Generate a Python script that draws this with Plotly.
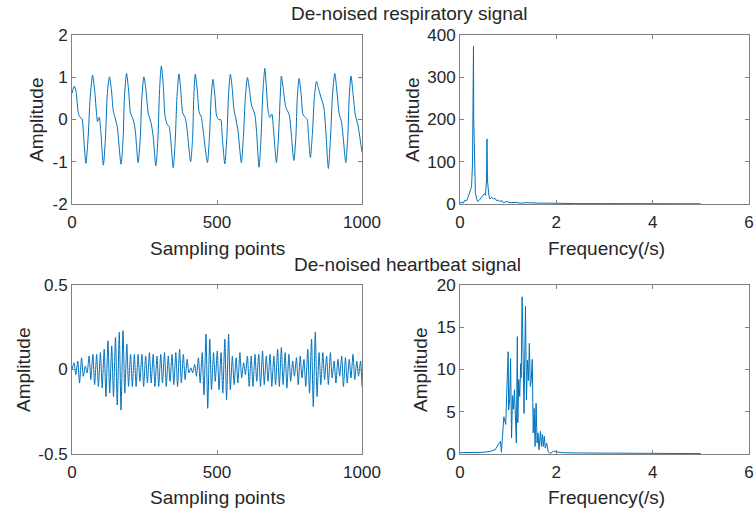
import plotly.graph_objects as go

# ---------------- data ----------------
resp_x = [0, 8, 14, 22, 28, 34, 41, 48, 55, 63, 71, 78, 85, 88, 94, 99, 108, 115, 122, 129,
          136, 142, 149, 156, 169, 176, 181, 188, 195, 202, 211, 218, 228, 235, 241, 248, 255, 263, 273, 280,
          289, 296, 302, 308, 315, 321, 328, 335, 349, 356, 362, 369, 375, 382, 390, 397, 409, 416, 420, 425,
          432, 439, 445, 452, 467, 474, 480, 486, 493, 499, 507, 513, 518, 527, 534, 540, 546, 553, 558, 564,
          572, 584, 591, 598, 605, 612, 619, 630, 636, 645, 652, 658, 665, 670, 676, 682, 689, 695, 705, 712,
          718, 722, 729, 737, 749, 755, 765, 772, 777, 783, 790, 797, 805, 811, 815, 822, 829, 836, 843, 850,
          856, 868, 875, 884, 891, 898, 906, 913, 921, 929, 935, 944, 951, 956, 962, 969, 977, 986, 994, 1000]
resp_y = [0.62, 0.79, 0.66, 0.15, 0.05, 0.02, -0.49, -1.04, -0.49, 0.54, 1.05, 0.70, 0.11, -0.05, 0.05, -0.25, -1.08, -0.49, 0.62, 1.01,
          0.70, 0.22, 0.03, -0.17, -1.06, -0.49, 0.54, 1.09, 0.70, 0.15, 0.00, -0.25, -1.02, -0.49, 0.54, 1.01, 0.70, 0.15, -0.09, -0.41,
          -1.10, -0.49, 0.70, 1.27, 0.78, 0.07, -0.11, -0.17, -1.14, -0.49, 0.54, 1.08, 0.70, 0.15, 0.05, -0.25, -1.00, -0.41, 0.54, 1.07,
          0.70, 0.15, 0.08, -0.25, -1.02, -0.41, 0.54, 0.95, 0.54, 0.08, -0.01, 0.00, -0.41, -1.05, -0.41, 0.62, 1.07, 0.70, 0.26, 0.05,
          -0.25, -1.02, -0.41, 0.54, 0.99, 0.70, 0.34, 0.13, -0.25, -1.13, -0.41, 0.62, 1.21, 0.78, 0.22, 0.05, 0.13, -0.25, -1.02, -0.41,
          0.54, 1.03, 0.70, 0.30, 0.11, -0.25, -0.97, -0.41, 0.54, 0.97, 0.62, 0.11, 0.05, 0.00, -0.33, -0.90, -0.33, 0.54, 0.90, 0.74,
          0.58, 0.30, -0.25, -1.16, -0.49, 0.54, 1.09, 0.70, 0.15, -0.05, -0.41, -1.02, -0.41, 0.54, 1.03, 0.62, 0.11, -0.13, -0.49, -0.78]

resp_f = [0.00, 0.02, 0.04, 0.07, 0.10, 0.14, 0.17, 0.19, 0.21, 0.24, 0.26, 0.27, 0.28, 0.285, 0.30, 0.32, 0.35, 0.37, 0.40, 0.43,
          0.46, 0.50, 0.53, 0.55, 0.56, 0.57, 0.60, 0.62, 0.66, 0.69, 0.73, 0.76, 0.80, 0.83, 0.87, 0.90, 0.97, 1.04, 1.14, 1.25,
          1.38, 1.52, 1.66, 1.87, 2.08, 2.35, 3.04, 3.74, 4.43, 5.00]
resp_amp = [4, 2, 5, 2, 9, 8, 17, 24, 32, 41, 96, 254, 374, 200, 73, 25, 11, 6, 9, 13,
            17, 24, 21, 57, 154, 57, 20, 12, 16, 12, 13, 8, 9, 6, 8, 3, 6, 3, 4, 2,
            3, 2, 2, 2, 1.5, 1, 1, 0.8, 0.5, 0.5]

hb_x = [0, 7, 13, 20, 26, 33, 39, 46, 52, 59, 65, 72, 78, 85, 91, 98, 104, 111, 117, 124,
        130, 137, 143, 150, 156, 163, 169, 176, 182, 189, 195, 202, 208, 215, 221, 228, 234, 241, 247, 254,
        260, 267, 273, 280, 286, 293, 299, 306, 312, 319, 325, 332, 338, 345, 351, 358, 364, 371, 377, 384,
        390, 397, 403, 410, 416, 423, 429, 436, 442, 449, 455, 462, 468, 475, 481, 488, 494, 501, 507, 514,
        520, 527, 533, 540, 546, 553, 559, 566, 572, 579, 585, 592, 598, 605, 611, 618, 624, 631, 637, 644,
        650, 657, 663, 670, 676, 683, 689, 696, 702, 709, 715, 722, 728, 735, 741, 748, 754, 761, 767, 774,
        780, 787, 793, 800, 806, 813, 819, 826, 832, 839, 845, 852, 858, 865, 871, 878, 884, 891, 897, 904,
        910, 917, 923, 930, 936, 943, 949, 956, 962, 969, 975, 982, 988, 995, 1000]
hb_y = [0.0, 0.04, -0.03, 0.05, -0.08, 0.07, -0.04, 0.02, -0.02, 0.08, -0.06, 0.09, -0.09, 0.09, -0.10, 0.10, -0.11, 0.12, -0.16, 0.17,
        -0.14, 0.14, -0.16, 0.19, -0.21, 0.22, -0.24, 0.23, -0.14, 0.15, -0.10, 0.09, -0.10, 0.09, -0.10, 0.09, -0.07, 0.09, -0.10, 0.08,
        -0.08, 0.10, -0.08, 0.09, -0.10, 0.08, -0.10, 0.09, -0.08, 0.10, -0.10, 0.08, -0.07, 0.09, -0.09, 0.10, -0.10, 0.12, -0.08, 0.09,
        -0.06, 0.06, -0.02, 0.01, -0.02, 0.03, -0.04, 0.07, -0.08, 0.10, -0.15, 0.21, -0.23, 0.18, -0.12, 0.10, -0.07, 0.11, -0.12, 0.10,
        -0.14, 0.18, -0.18, 0.21, -0.12, 0.08, -0.09, 0.07, -0.08, 0.10, -0.05, 0.04, -0.03, 0.08, -0.10, 0.08, -0.10, 0.09, -0.07, 0.09,
        -0.10, 0.11, -0.09, 0.08, -0.07, 0.09, -0.10, 0.08, -0.09, 0.12, -0.10, 0.13, -0.09, 0.10, -0.11, 0.09, -0.07, 0.05, -0.04, 0.07,
        -0.09, 0.08, -0.05, 0.06, -0.10, 0.12, -0.14, 0.18, -0.22, 0.22, -0.16, 0.10, -0.09, 0.10, -0.06, 0.08, -0.09, 0.10, -0.05, 0.05,
        -0.08, 0.06, -0.04, 0.08, -0.10, 0.07, -0.08, 0.06, -0.05, 0.09, -0.06, 0.05, -0.04, 0.05, -0.10]

hb_f = [0.00, 0.28, 0.48, 0.62, 0.73, 0.77, 0.82, 0.84, 0.86, 0.88, 0.91, 0.93, 0.95, 0.97, 1.00, 1.01, 1.03, 1.05, 1.07, 1.09,
        1.11, 1.13, 1.15, 1.17, 1.19, 1.20, 1.22, 1.24, 1.26, 1.27, 1.29, 1.31, 1.33, 1.34, 1.36, 1.38, 1.40, 1.42, 1.44, 1.46,
        1.48, 1.50, 1.52, 1.54, 1.56, 1.58, 1.60, 1.62, 1.64, 1.67, 1.69, 1.71, 1.73, 1.75, 1.77, 1.80, 1.83, 1.87, 1.90, 1.94,
        2.00, 2.14, 2.49, 3.18, 3.87, 5.00]
hb_amp = [0.16, 0.16, 0.2, 0.3, 0.5, 0.9, 1.3, 1.5, 0.2, 1.5, 4.4, 3.9, 3.5, 7.2, 12.1, 5.2, 6.4, 11.3, 1.9, 6.9,
          5.3, 7.6, 4.0, 1.3, 13.9, 3.7, 8.8, 6.8, 10.7, 9.0, 18.6, 9.9, 4.8, 9.9, 17.5, 6.4, 11.1, 8.7, 13.1, 8.0,
          8.8, 11.2, 2.5, 5.4, 0.9, 6.0, 1.3, 2.5, 0.5, 2.7, 0.9, 2.3, 0.9, 2.1, 0.7, 1.3, 0.3, 0.05, 0.2, 0.35,
          0.25, 0.15, 0.12, 0.1, 0.08, 0.05]

titles = ["De-noised respiratory signal", "De-noised heartbeat signal"]
xlab_time = "Sampling points"
xlab_freq = "Frequency(/s)"
ylab = "Amplitude"

# ---------------- figure ----------------
W, H = 756, 508
LINE = "#0072BD"
AX = "#808080"
TXT = "#262626"
FONT = "Arial, Liberation Sans, Helvetica, sans-serif"

def px(x):
    return x / W

def py(y):
    return 1 - y / H

fig = go.Figure()
fig.add_trace(go.Scatter(x=resp_x, y=resp_y, mode="lines", line=dict(color=LINE, width=1, shape="spline", smoothing=0.7),
                         xaxis="x", yaxis="y", showlegend=False))
fig.add_trace(go.Scatter(x=resp_f, y=resp_amp, mode="lines", line=dict(color=LINE, width=1),
                         xaxis="x2", yaxis="y2", showlegend=False))
fig.add_trace(go.Scatter(x=hb_x, y=hb_y, mode="lines", line=dict(color=LINE, width=1, shape="spline", smoothing=0.6),
                         xaxis="x3", yaxis="y3", showlegend=False))
fig.add_trace(go.Scatter(x=hb_f, y=hb_amp, mode="lines", line=dict(color=LINE, width=1),
                         xaxis="x4", yaxis="y4", showlegend=False))

def axis(dom, rng, vals, texts, anchor, standoff=0):
    return dict(domain=dom, range=rng, tickvals=vals, ticktext=texts, anchor=anchor,
                showline=True, mirror="ticks", linecolor=AX, linewidth=1,
                ticks="inside", ticklen=4, tickcolor=AX, tickwidth=1,
                showgrid=False, zeroline=False, fixedrange=True, automargin=False,
                ticklabelstandoff=standoff,
                tickfont=dict(family=FONT, size=17, color=TXT))

xl = [px(72), px(362)]
xr = [px(460), px(749)]
yt = [py(204), py(35)]
yb = [py(454), py(285)]

tvals_t = [0, 500, 1000]
tvals_f = [0, 2, 4, 6]

fig.update_layout(
    width=W, height=H, autosize=False,
    margin=dict(l=0, r=0, t=0, b=0, pad=0),
    paper_bgcolor="white", plot_bgcolor="white",
    xaxis=axis(xl, [0, 1000], tvals_t, [str(v) for v in tvals_t], "y", 3),
    yaxis=axis(yt, [-2, 2], [-2, -1, 0, 1, 2], ["-2", "-1", "0", "1", "2"], "x"),
    xaxis2=axis(xr, [0, 6], tvals_f, [str(v) for v in tvals_f], "y2", 3),
    yaxis2=axis(yt, [0, 400], [0, 100, 200, 300, 400], ["0", "100", "200", "300", "400"], "x2"),
    xaxis3=axis(xl, [0, 1000], tvals_t, [str(v) for v in tvals_t], "y3", 3),
    yaxis3=axis(yb, [-0.5, 0.5], [-0.5, 0, 0.5], ["-0.5", "0", "0.5"], "x3"),
    xaxis4=axis(xr, [0, 6], tvals_f, [str(v) for v in tvals_f], "y4", 3),
    yaxis4=axis(yb, [0, 20], [0, 5, 10, 15, 20], ["0", "5", "10", "15", "20"], "x4"),
)

def note(text, x, y, angle=0, pad=1):
    fig.add_annotation(text=text, x=px(x), y=py(y), xref="paper", yref="paper",
                       xanchor="center", yanchor="middle", showarrow=False, textangle=angle,
                       borderpad=pad,
                       font=dict(family=FONT, size=19, color=TXT))

note(titles[0], 409, 14, pad=0)
note(titles[1], 407, 264, pad=0)
note(xlab_time, 217, 248)
note(xlab_freq, 606, 248)
note(xlab_time, 217, 497)
note(xlab_freq, 606, 497)
note(ylab, 36, 120, -90)
note(ylab, 412, 120, -90)
note(ylab, 23, 370, -90)
note(ylab, 420, 370, -90)

fig.write_html("out.html", config={"responsive": False, "displayModeBar": False},
               post_script="document.body.style.margin='0';document.body.style.overflow='hidden';")
